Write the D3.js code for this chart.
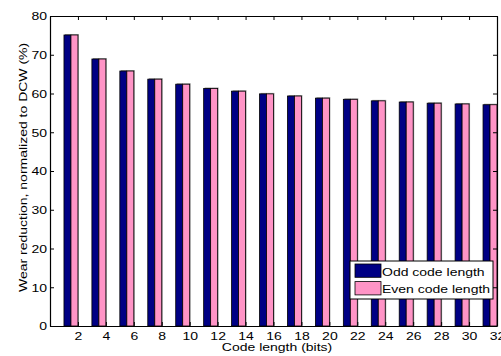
<!DOCTYPE html>
<html>
<head>
<meta charset="utf-8">
<script src="https://cdn.jsdelivr.net/npm/d3@7"></script>
<style>
body { margin: 0; background: #fff; }
svg { display: block; font-family: "Liberation Sans", Arial, sans-serif; }
</style>
</head>
<body>
<svg width="501" height="356"></svg>
<script>
var codeLengths = [2, 4, 6, 8, 10, 12, 14, 16, 18, 20, 22, 24, 26, 28, 30, 32];
var oddValues = [75.1, 68.9, 65.8, 63.7, 62.4, 61.3, 60.6, 59.9, 59.35, 58.8, 58.5, 58.1, 57.8, 57.5, 57.3, 57.1];
var evenValues = [75.1, 68.9, 65.8, 63.7, 62.4, 61.3, 60.6, 59.9, 59.35, 58.8, 58.5, 58.1, 57.8, 57.5, 57.3, 57.1];
var yTicks = [0, 10, 20, 30, 40, 50, 60, 70, 80];
var seriesNames = ["Odd code length", "Even code length"];
var colors = ["#000084", "#ff94c6"];

var svg = d3.select("svg");
var marge = { top: 16, left: 50, right: 4, bottom: 30 };
var width = 501 - marge.left - marge.right;   // 447
var height = 356 - marge.top - marge.bottom;  // 310
var sq = 0.76;                                // text in the original is squashed across its baseline
var fontSize = "14px";

var x = d3.scaleLinear().domain([0, 32]).range([0, width]);
var y = d3.scaleLinear().domain([0, 80]).range([height, 0]);

var g = svg.append("g").attr("transform", "translate(" + marge.left + "," + marge.top + ")");

svg.append("clipPath").attr("id", "clip")
    .append("rect").attr("x", 0).attr("y", 0).attr("width", width).attr("height", height);

var bars = g.append("g").attr("clip-path", "url(#clip)");

// each group: odd bar on [c-1, c-0.5], even bar on [c-0.5, c]
[oddValues, evenValues].forEach(function (vals, s) {
    var sg = bars.append("g");
    // light gray shadow edge like the original
    sg.selectAll("rect.shadow")
        .data(codeLengths)
        .enter().append("rect")
        .attr("class", "shadow")
        .attr("x", function (d) { return x(d - 1 + s * 0.5) + 1; })
        .attr("y", function (d, i) { return y(vals[i]) - 1; })
        .attr("width", function (d) { return x(d - 0.5) - x(d - 1); })
        .attr("height", function (d, i) { return y(0) - y(vals[i]); })
        .attr("fill", "#a0a0a0");
    sg.selectAll("rect.bar")
        .data(codeLengths)
        .enter().append("rect")
        .attr("class", "bar")
        .attr("x", function (d) { return x(d - 1 + s * 0.5); })
        .attr("y", function (d, i) { return y(vals[i]); })
        .attr("width", function (d) { return x(d - 0.5) - x(d - 1); })
        .attr("height", function (d, i) { return y(0) - y(vals[i]); })
        .attr("fill", colors[s])
        .attr("stroke", "#000")
        .attr("stroke-width", 0.8);
});

// axes, matlab style: box with inward ticks
var axB = g.append("g").attr("transform", "translate(0," + height + ")")
    .call(d3.axisBottom(x).tickValues(codeLengths).tickSizeInner(-4).tickSizeOuter(0));
var axT = g.append("g")
    .call(d3.axisTop(x).tickValues(codeLengths).tickSizeInner(-4).tickSizeOuter(0).tickFormat(""));
var axL = g.append("g")
    .call(d3.axisLeft(y).tickValues(yTicks).tickSizeInner(-4).tickSizeOuter(0).tickPadding(3));
var axR = g.append("g").attr("transform", "translate(" + width + ",0)")
    .call(d3.axisRight(y).tickValues(yTicks).tickSizeInner(-4).tickSizeOuter(0).tickFormat(""));

[axB, axT, axL, axR].forEach(function (a) {
    a.selectAll("path").attr("stroke", "#000").attr("stroke-width", 1.2);
    a.selectAll("line").attr("stroke", "#000");
    a.selectAll("text").attr("fill", "#000").style("font-size", fontSize)
        .style("font-family", "'Liberation Sans', Arial, sans-serif");
});

// squash tick labels, keep baselines where the reference has them
axB.selectAll(".tick text")
    .attr("dy", null)
    .attr("y", 14.5 / sq)
    .attr("transform", "scale(1," + sq + ")");
axL.selectAll(".tick text")
    .attr("dy", null)
    .attr("y", 3.9 / sq)
    .attr("transform", "scale(1," + sq + ")");

function label(px, py, rot, txt, anchor) {
    return svg.append("text")
        .attr("transform", "translate(" + px + "," + py + ")" + (rot ? " rotate(" + rot + ")" : "") + " scale(1," + sq + ")")
        .attr("text-anchor", anchor || "start")
        .style("font-size", fontSize)
        .text(txt);
}

// axis labels
label(277, 351, 0, "Code length (bits)", "middle");
label(26.7, 167.4, -90, "Wear reduction, normalized to DCW (%)", "middle");

// legend
var legend = svg.append("g").attr("transform", "translate(350,261)");
legend.append("rect")
    .attr("width", 143).attr("height", 38)
    .attr("fill", "#fff").attr("stroke", "#000").attr("stroke-width", 1);
seriesNames.forEach(function (name, i) {
    legend.append("rect")
        .attr("x", 5).attr("y", 3 + i * 17.6)
        .attr("width", 26).attr("height", 13.3)
        .attr("fill", colors[i]).attr("stroke", "#000").attr("stroke-width", 0.8);
});
label(382, 275.7, 0, seriesNames[0]);
label(382, 293.3, 0, seriesNames[1]);
</script>
</body>
</html>
